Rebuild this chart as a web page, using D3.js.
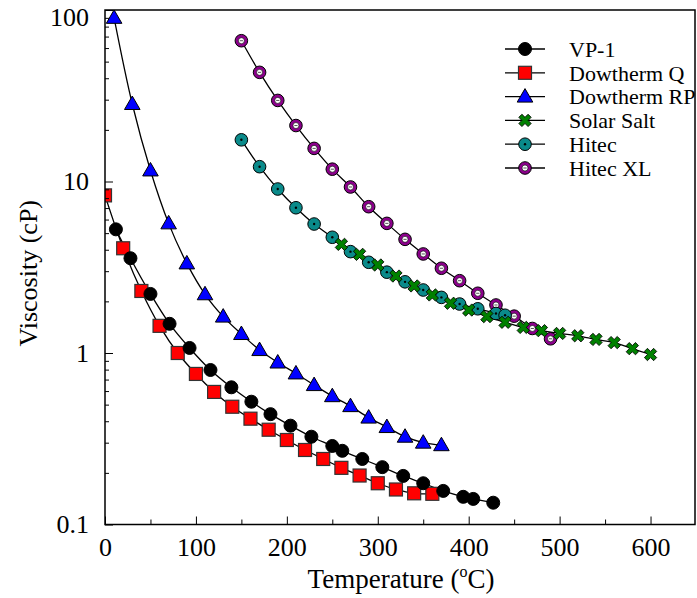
<!DOCTYPE html>
<html>
<head>
<meta charset="utf-8">
<script src="https://cdn.jsdelivr.net/npm/d3@7"></script>
<style>
  html, body { margin: 0; padding: 0; background: #fff; }
  svg { display: block; }
</style>
</head>
<body>
<svg id="chart" width="697" height="598"></svg>
<script>
// ---------------- data ----------------
const seriesNames = ["VP-1", "Dowtherm Q", "Dowtherm RP", "Solar Salt", "Hitec", "Hitec XL"];

const vp1T = [12, 28, 50, 71, 93, 116, 139, 161, 182, 204, 227, 250, 261, 283, 305, 328, 350, 372, 394, 405, 427];
const vp1V = [5.26, 3.57, 2.21, 1.48, 1.07, 0.796, 0.631, 0.52, 0.44, 0.377, 0.325, 0.287, 0.269, 0.241, 0.216, 0.192, 0.174, 0.157, 0.145, 0.141, 0.134];

const dqT = [0, 20, 40, 60, 80, 100, 120, 140, 160, 180, 200, 220, 240, 260, 280, 300, 320, 340, 360];
const dqV = [8.3, 4.08, 2.30, 1.44, 1.0, 0.755, 0.593, 0.486, 0.414, 0.357, 0.311, 0.272, 0.241, 0.214, 0.193, 0.174, 0.160, 0.152, 0.151];

const rpT = [10, 30, 50, 70, 90, 110, 130, 150, 170, 190, 210, 230, 250, 270, 290, 310, 330, 350, 370];
const rpV = [90, 28.3, 11.6, 5.7, 3.33, 2.2, 1.63, 1.29, 1.04, 0.88, 0.76, 0.65, 0.56, 0.49, 0.42, 0.37, 0.325, 0.30, 0.29];

const ssT = [260, 280, 300, 320, 340, 360, 380, 400, 420, 440, 460, 480, 500, 520, 540, 560, 580, 600];
const ssV = [4.30, 3.76, 3.26, 2.81, 2.46, 2.18, 1.95, 1.78, 1.63, 1.51, 1.41, 1.35, 1.30, 1.26, 1.20, 1.15, 1.06, 0.98];

const hiT = [150, 170, 190, 210, 230, 250, 270, 290, 310, 330, 350, 370, 390, 410, 430, 440];
const hiV = [17.5, 12.2, 9.04, 7.03, 5.65, 4.73, 3.90, 3.38, 2.96, 2.60, 2.33, 2.11, 1.93, 1.81, 1.70, 1.66];

const hxT = [150, 170, 190, 210, 230, 250, 270, 290, 310, 330, 350, 370, 390, 410, 430, 450, 470, 490];
const hxV = [66.2, 43.3, 29.7, 21.2, 15.6, 11.8, 9.29, 7.13, 5.70, 4.60, 3.78, 3.12, 2.64, 2.23, 1.905, 1.64, 1.39, 1.21];

const xTicks = [0, 100, 200, 300, 400, 500, 600];
const yTickLabels = ["0.1", "1", "10", "100"];
const yTickValues = [0.1, 1, 10, 100];

// ---------------- layout ----------------
const FONT = "'Liberation Serif', 'DejaVu Serif', serif";
const svg = d3.select("#chart");
const L = 105, R = 696, T = 10, B = 524.5;
const x = d3.scaleLinear().domain([0, 650]).range([L, R]);
const y = d3.scaleLog().domain([0.1, 100]).range([B, T]);

const styles = {
  "VP-1":        { type: "circle",   fill: "#000000" },
  "Dowtherm Q":  { type: "square",   fill: "#ff0000" },
  "Dowtherm RP": { type: "triangle", fill: "#0000ff" },
  "Solar Salt":  { type: "x",        fill: "#008000" },
  "Hitec":       { type: "dot",      fill: "#0a8a8a" },
  "Hitec XL":    { type: "ring",     fill: "#8b008b" }
};

const data = {
  "VP-1": vp1T.map((t, i) => ({ t, v: vp1V[i] })),
  "Dowtherm Q": dqT.map((t, i) => ({ t, v: dqV[i] })),
  "Dowtherm RP": rpT.map((t, i) => ({ t, v: rpV[i] })),
  "Solar Salt": ssT.map((t, i) => ({ t, v: ssV[i] })),
  "Hitec": hiT.map((t, i) => ({ t, v: hiV[i] })),
  "Hitec XL": hxT.map((t, i) => ({ t, v: hxV[i] }))
};

svg.append("defs").append("clipPath").attr("id", "plotclip")
  .append("rect").attr("x", L).attr("y", T).attr("width", R - L).attr("height", B - T);

function drawMarker(g, type, fill) {
  if (type === "circle") {
    g.append("circle").attr("r", 6.5).attr("fill", fill).attr("stroke", "#000").attr("stroke-width", 1);
  } else if (type === "square") {
    g.append("rect").attr("x", -6.5).attr("y", -6.5).attr("width", 13).attr("height", 13)
      .attr("fill", fill).attr("stroke", "#333").attr("stroke-width", 1.2);
  } else if (type === "triangle") {
    g.append("path").attr("d", d3.symbol(d3.symbolTriangle, 105)()).attr("transform", "translate(0,1)")
      .attr("fill", fill).attr("stroke", "#000").attr("stroke-width", 1);
  } else if (type === "x") {
    g.append("path").attr("d", d3.symbol(d3.symbolCross, 95)()).attr("transform", "rotate(45)")
      .attr("fill", fill).attr("stroke", "#000").attr("stroke-width", 0.8);
  } else if (type === "dot") {
    g.append("circle").attr("r", 6.3).attr("fill", fill).attr("stroke", "#000").attr("stroke-width", 1);
    g.append("circle").attr("r", 1.2).attr("fill", "#000");
  } else if (type === "ring") {
    g.append("circle").attr("r", 6.3).attr("fill", fill).attr("stroke", "#000").attr("stroke-width", 1);
    g.append("circle").attr("r", 3.0).attr("fill", "#fff").attr("stroke", "#000").attr("stroke-width", 0.6);
    g.append("line").attr("x1", -1.6).attr("x2", 1.6).attr("y1", 0).attr("y2", 0)
      .attr("stroke", "#555").attr("stroke-width", 1);
  }
}

// ---------------- lines ----------------
const plot = svg.append("g").attr("clip-path", "url(#plotclip)");
const line = d3.line().x(d => x(d.t)).y(d => y(d.v)).curve(d3.curveCatmullRom.alpha(0.5));
seriesNames.forEach(name => {
  plot.append("path").datum(data[name]).attr("d", line)
    .attr("fill", "none").attr("stroke", "#000").attr("stroke-width", 1.3);
});

// ---------------- markers ----------------
const drawOrder = ["Hitec XL", "Hitec", "Solar Salt", "Dowtherm RP", "Dowtherm Q", "VP-1"];
drawOrder.forEach(name => {
  const st = styles[name];
  data[name].forEach(d => {
    const g = plot.append("g").attr("transform", `translate(${x(d.t)},${y(d.v)})`);
    drawMarker(g, st.type, st.fill);
  });
});

// ---------------- axes ----------------
const xAxisMajor = d3.axisBottom(x).tickValues(xTicks).tickSize(-8).tickPadding(21).tickFormat(d3.format("d"));
const gx = svg.append("g").attr("transform", `translate(0,${B})`).call(xAxisMajor);
gx.select(".domain").remove();
gx.attr("font-family", null).attr("font-size", null);
gx.selectAll("line").attr("stroke", "#000").attr("stroke-width", 1);
gx.selectAll("text").style("font-family", FONT).style("font-size", "26px").attr("fill", "#000").attr("dy", "0.4em");

const xMinor = d3.range(50, 650, 100);
svg.append("g").attr("transform", `translate(0,${B})`)
  .call(d3.axisBottom(x).tickValues(xMinor).tickSize(-5).tickFormat(""))
  .call(g => g.select(".domain").remove())
  .selectAll("line").attr("stroke", "#000").attr("stroke-width", 1);

const yAxisMajor = d3.axisLeft(y).tickValues(yTickValues).tickSize(-8).tickPadding(16)
  .tickFormat((d, i) => yTickLabels[i]);
const gy = svg.append("g").attr("transform", `translate(${L},0)`).call(yAxisMajor);
gy.select(".domain").remove();
gy.attr("font-family", null).attr("font-size", null);
gy.selectAll("line").attr("stroke", "#000").attr("stroke-width", 1);
gy.selectAll("text").style("font-family", FONT).style("font-size", "26px").attr("fill", "#000")
  .attr("dy", d => d === 100 ? "0.6em" : "0.32em");

const yMinor = [];
[0.1, 1, 10].forEach(dec => { for (let k = 2; k <= 9; k++) yMinor.push(dec * k); });
svg.append("g").attr("transform", `translate(${L},0)`)
  .call(d3.axisLeft(y).tickValues(yMinor).tickSize(-4).tickFormat(""))
  .call(g => g.select(".domain").remove())
  .selectAll("line").attr("stroke", "#000").attr("stroke-width", 1);

// frame
svg.append("rect").attr("x", L).attr("y", T).attr("width", R - L - 1).attr("height", B - T)
  .attr("fill", "none").attr("stroke", "#000").attr("stroke-width", 1.5);

// axis titles
const xt = svg.append("text").attr("x", 401).attr("y", 588).attr("text-anchor", "middle")
  .style("font-family", FONT).style("font-size", "27px");
xt.append("tspan").text("Temperature (");
xt.append("tspan").text("o").style("font-size", "16px").attr("dy", -11);
xt.append("tspan").text("C)").attr("dy", 11);

svg.append("text").attr("transform", `translate(37,${(T + B) / 2 + 6}) rotate(-90)`)
  .attr("text-anchor", "middle").style("font-family", FONT).style("font-size", "26px").text("Viscosity (cP)");

// ---------------- legend ----------------
const legend = svg.append("g");
seriesNames.forEach((name, i) => {
  const ly = 49 + i * 23.8;
  const row = legend.append("g").attr("transform", `translate(0,${ly})`);
  row.append("line").attr("x1", 505).attr("x2", 545).attr("y1", 0).attr("y2", 0)
    .attr("stroke", "#000").attr("stroke-width", 1.3);
  const m = row.append("g").attr("transform", "translate(525,0)");
  drawMarker(m, styles[name].type, styles[name].fill);
  row.append("text").attr("x", 569).attr("y", 0).attr("dy", "0.35em")
    .style("font-family", FONT).style("font-size", "22px").text(name);
});
</script>
</body>
</html>
